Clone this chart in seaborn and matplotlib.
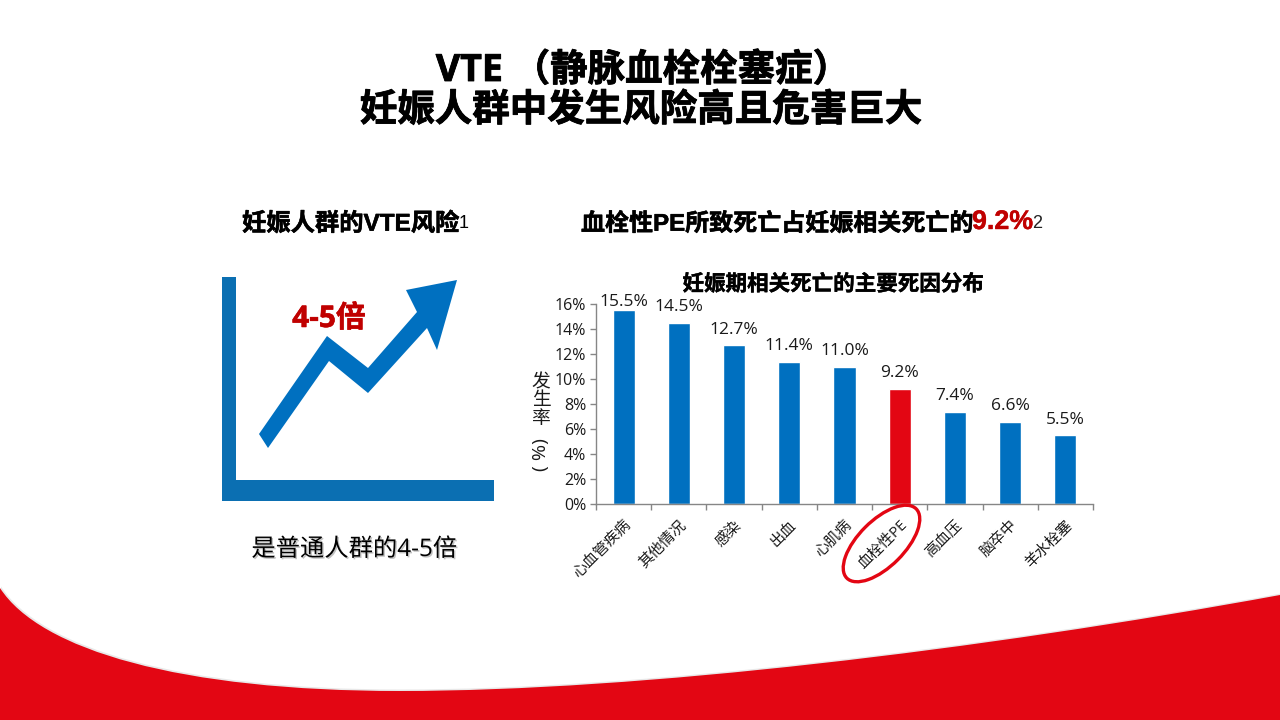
import matplotlib
matplotlib.use("Agg")
import matplotlib.pyplot as plt
import matplotlib.patheffects as pe
from matplotlib.patches import Ellipse, PathPatch, Polygon
from matplotlib.path import Path
from matplotlib.ticker import FixedLocator
import pandas as pd
import seaborn as sns

# Chart data
causes = ['心血管疾病', '其他情况', '感染', '出血', '心肌病', '血栓性PE', '高血压', '脑卒中', '羊水栓塞']
rates = [15.5, 14.5, 12.7, 11.4, 11.0, 9.2, 7.4, 6.6, 5.5]
y_ticks = [0, 2, 4, 6, 8, 10, 12, 14, 16]

BLUE = '#0070C0'
ICON_BLUE = '#0B6FB2'
RED = '#E30613'
DARK_RED = '#C00000'

sns.set_theme(style="white")
plt.rcParams['font.family'] = ['Open Sans', 'Noto Sans CJK SC', 'DejaVu Sans']
ARIAL_LIKE = ['Liberation Sans', 'Noto Sans CJK SC']


def heavy(width, color='black'):
    # the slide's bold text is a bit fatter than the font's own bold
    return [pe.withStroke(linewidth=width, foreground=color)]


fig = plt.figure(figsize=(12.8, 7.2), dpi=100, facecolor='white')

# background layer in pixel coordinates
bg = fig.add_axes([0, 0, 1, 1], zorder=0)
bg.set_xlim(0, 1280)
bg.set_ylim(720, 0)
bg.axis('off')

wave = [(0, 720), (0, 588), (40, 650), (180, 691), (400, 691),
        (640, 691), (980, 650), (1280, 595), (1280, 720), (0, 720)]
codes = [Path.MOVETO, Path.LINETO, Path.CURVE4, Path.CURVE4, Path.CURVE4,
         Path.CURVE4, Path.CURVE4, Path.CURVE4, Path.LINETO, Path.CLOSEPOLY]
shadow = [(x + 1, y - 1.5) for x, y in wave]
bg.add_patch(PathPatch(Path(shadow, codes), fc='#e8e8e8', ec='none'))
bg.add_patch(PathPatch(Path(wave, codes), fc=RED, ec='none'))

# the icon on the left
axis_shape = [(222, 277), (236, 277), (236, 480), (494, 480), (494, 501), (222, 501)]
arrow_shape = [(259, 434), (327, 336), (368, 368), (417, 312), (406, 290), (457, 280),
               (437, 350), (427, 328), (368, 393), (329, 361), (268, 448)]
bg.add_patch(Polygon(axis_shape, fc=ICON_BLUE, ec='none'))
bg.add_patch(Polygon(arrow_shape, fc=BLUE, ec='none'))

# bar chart
ax = fig.add_axes([596 / 1280, (720 - 504) / 720, 497 / 1280, 200 / 720], zorder=1)
df = pd.DataFrame({'cause': causes, 'rate': rates})
colors = [RED if c == '血栓性PE' else BLUE for c in causes]
sns.barplot(data=df, x='cause', y='rate', hue='cause', palette=colors,
            legend=False, width=0.4, saturation=1, ax=ax)
ax.patch.set_alpha(0)
ax.set_xlim(-0.5, len(causes) - 0.5)
ax.set_ylim(0, 16)
ax.set_xlabel('')
ax.set_ylabel('')
ax.set_yticks(y_ticks)
ax.set_yticklabels([f'{t}%' for t in y_ticks], fontsize=11.5, color='#1a1a1a')
ax.set_xticks(range(len(causes)))
ax.set_xticklabels(causes, fontsize=10.8, rotation=45, ha='right', rotation_mode='anchor', color='#1a1a1a')
ax.xaxis.set_minor_locator(FixedLocator([i - 0.5 for i in range(len(causes) + 1)]))
ax.tick_params(axis='x', which='major', length=0, pad=10)
ax.tick_params(axis='x', which='minor', length=4, width=1, color='#868686', bottom=True)
ax.tick_params(axis='y', which='major', length=4, width=1, color='#868686', left=True, pad=3)
sns.despine(ax=ax)
for side in ['left', 'bottom']:
    ax.spines[side].set_color('#868686')
    ax.spines[side].set_linewidth(1)
for i, v in enumerate(rates):
    # the tallest label sits closer to its bar, squeezed under the chart title
    offset = 0 if v == max(rates) else 5.5
    ax.annotate(f'{v:.1f}%', (i, v), xytext=(0, offset), textcoords='offset points',
                ha='center', va='bottom', fontsize=12.5, color='#1a1a1a', annotation_clip=False)

# foreground layer for all the slide text
fg = fig.add_axes([0, 0, 1, 1], zorder=2)
fg.set_xlim(0, 1280)
fg.set_ylim(720, 0)
fg.axis('off')

fg.text(643, 71, 'VTE （静脉血栓栓塞症）', ha='center', va='center', fontsize=27, fontweight='bold',
        color='black', path_effects=heavy(0.6))
fg.text(641, 111, '妊娠人群中发生风险高且危害巨大', ha='center', va='center', fontsize=27, fontweight='bold',
        color='black', path_effects=heavy(0.6))

t = fg.text(242, 224, '妊娠人群的VTE风险', ha='left', va='center', fontsize=17.5, fontweight='bold',
            color='black', family=ARIAL_LIKE, path_effects=heavy(0.4))
renderer = fig.canvas.get_renderer()
fg.text(242 + t.get_window_extent(renderer).width, 224, '1', ha='left', va='center', fontsize=13,
        color='black', family=ARIAL_LIKE)

# header with a red number in the middle, placed piece by piece
x_pos = 581
for part, size, col, y_pos, weight, stroke in [('血栓性PE所致死亡占妊娠相关死亡的', 17.3, 'black', 224, 'bold', 0.4),
                                               ('9.2%', 19.3, DARK_RED, 222, 'bold', 0.3),
                                               ('2', 13, '#222222', 223, 'normal', 0)]:
    t = fg.text(x_pos, y_pos, part, ha='left', va='center', fontsize=size, fontweight=weight,
                color=col, family=ARIAL_LIKE)
    if stroke:
        t.set_path_effects(heavy(stroke, col))
    x_pos += t.get_window_extent(renderer).width - 1

fg.text(833, 285, '妊娠期相关死亡的主要死因分布', ha='center', va='center', fontsize=15.5, fontweight='bold',
        color='black', path_effects=heavy(0.3))

fg.text(329, 319, '4-5倍', ha='center', va='center', fontsize=21.5, fontweight='bold', color=DARK_RED,
        path_effects=heavy(0.4, DARK_RED))
fg.text(354, 550, '是普通人群的4-5倍', ha='center', va='center', fontsize=17.5, color='black',
        path_effects=[pe.withSimplePatchShadow(offset=(1, -1), shadow_rgbFace='#999999', alpha=0.6)])

# y axis title, upright characters over a rotated bracket
for char, y_pos in zip('发生率', [382, 400, 419]):
    fg.text(541, y_pos, char, ha='center', va='center', fontsize=13.5, color='#1a1a1a')
fg.text(541, 455, '( %)', ha='center', va='center', fontsize=14, rotation=90, color='#1a1a1a')

# circle around the highlighted category
fg.add_patch(Ellipse((881.5, 543.5), 98, 46, angle=-45, fc='none', ec=RED, lw=2.4))

fig.savefig('out.png', dpi=100)
